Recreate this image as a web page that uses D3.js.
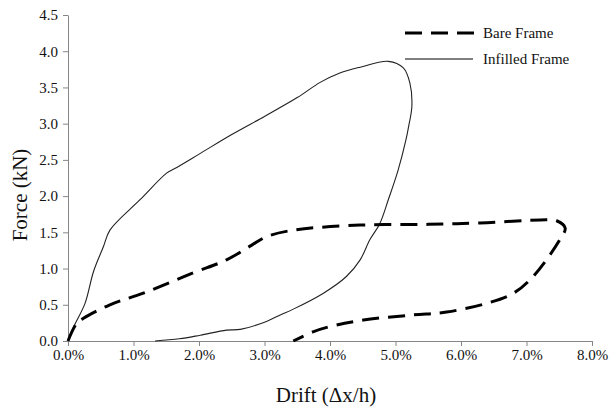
<!DOCTYPE html>
<html>
<head>
<meta charset="utf-8">
<script src="https://cdn.jsdelivr.net/npm/d3@7"></script>
<style>
body { margin: 0; background: #fff; }
.axis path, .axis line { stroke: #868686; }
</style>
</head>
<body>
<script>
var width = 609;
var height = 409;
var serif = "'Liberation Serif', 'Times New Roman', serif";

// drift in %, force in kN
var bareDrift = [0, 0.13, 0.23, 0.64, 1.15, 1.91, 2.42, 2.8, 3.03, 3.44, 4.46, 5.5, 6.29, 7.21, 7.46, 7.59, 7.51, 7.10, 6.80, 6.39, 5.78, 5.27, 4.51, 4.0, 3.75, 3.44];
var bareForce = [0, 0.24, 0.31, 0.50, 0.66, 0.94, 1.12, 1.32, 1.44, 1.53, 1.60, 1.61, 1.63, 1.67, 1.66, 1.56, 1.40, 0.89, 0.66, 0.52, 0.40, 0.36, 0.29, 0.20, 0.13, 0.0];

var infDrift = [0, 0.1, 0.26, 0.39, 0.54, 0.64, 1.10, 1.51, 1.63, 2.02, 2.5, 3.0, 3.5, 3.85, 4.15, 4.46, 4.89, 5.12, 5.22, 5.25, 5.2, 5.16, 5.04, 4.89, 4.76, 4.61, 4.46, 4.25, 3.9, 3.44, 3.24, 3.03, 2.63, 2.42, 2.02, 1.7, 1.33];
var infForce = [0, 0.22, 0.52, 0.96, 1.30, 1.53, 1.95, 2.32, 2.38, 2.59, 2.85, 3.10, 3.36, 3.57, 3.70, 3.78, 3.86, 3.77, 3.56, 3.24, 2.96, 2.78, 2.36, 1.95, 1.62, 1.40, 1.12, 0.89, 0.66, 0.44, 0.36, 0.27, 0.16, 0.15, 0.08, 0.03, 0];

var xTicks = [0, 1, 2, 3, 4, 5, 6, 7, 8];
var yTicks = [0, 0.5, 1, 1.5, 2, 2.5, 3, 3.5, 4, 4.5];

var seriesNames = ["Bare Frame", "Infilled Frame"];

var x = d3.scaleLinear().domain([0, 8]).range([68, 592]);
var y = d3.scaleLinear().domain([0, 4.5]).range([341, 15]);

var svg = d3.select("body").append("svg")
    .attr("width", width)
    .attr("height", height)
    .style("font-family", serif);

function styleTicks(g) {
    g.attr("font-family", serif);
    g.selectAll("text")
        .style("font-family", serif)
        .style("font-size", "15px")
        .attr("fill", "#111");
}

svg.append("g")
    .attr("class", "axis")
    .attr("transform", "translate(0,341)")
    .call(d3.axisBottom(x).tickValues(xTicks).tickSize(5).tickSizeOuter(0)
          .tickFormat(function (d) { return d.toFixed(1) + "%"; }))
    .call(styleTicks);

svg.append("g")
    .attr("class", "axis")
    .attr("transform", "translate(68,0)")
    .call(d3.axisLeft(y).tickValues(yTicks).tickSize(5).tickSizeOuter(0).tickPadding(5)
          .tickFormat(d3.format(".1f")))
    .call(styleTicks);

var line = d3.line()
    .x(function (d) { return x(d[0]); })
    .y(function (d) { return y(d[1]); })
    .curve(d3.curveCatmullRom.alpha(0.5));

var bare = bareDrift.map(function (d, i) { return [d, bareForce[i]]; });
var inf = infDrift.map(function (d, i) { return [d, infForce[i]]; });

svg.append("path")
    .datum(inf)
    .attr("d", line)
    .attr("fill", "none")
    .attr("stroke", "#222")
    .attr("stroke-width", 1.1);

svg.append("path")
    .datum(bare)
    .attr("d", line)
    .attr("fill", "none")
    .attr("stroke", "#000")
    .attr("stroke-width", 3)
    .attr("stroke-dasharray", "17,9");

// legend
var legend = svg.append("g");
legend.append("line")
    .attr("x1", 405).attr("x2", 475).attr("y1", 33).attr("y2", 33)
    .attr("stroke", "#000").attr("stroke-width", 3).attr("stroke-dasharray", "17,9");
legend.append("line")
    .attr("x1", 405).attr("x2", 473).attr("y1", 59).attr("y2", 59)
    .attr("stroke", "#000").attr("stroke-width", 1);
legend.selectAll("text.leg")
    .data(seriesNames)
    .enter().append("text")
    .attr("class", "leg")
    .attr("x", 483)
    .attr("y", function (d, i) { return 33 + i * 26; })
    .attr("dy", "0.35em")
    .attr("fill", "#111")
    .style("font-family", serif)
    .style("font-size", "15px")
    .text(function (d) { return d; });

svg.append("text")
    .attr("transform", "translate(27,195) rotate(-90)")
    .attr("text-anchor", "middle")
    .attr("fill", "#111")
    .style("font-family", serif)
    .style("font-size", "21px")
    .text("Force (kN)");

svg.append("text")
    .attr("x", 326)
    .attr("y", 402)
    .attr("text-anchor", "middle")
    .attr("fill", "#111")
    .style("font-family", serif)
    .style("font-size", "21px")
    .text("Drift (\u0394x/h)");
</script>
</body>
</html>
